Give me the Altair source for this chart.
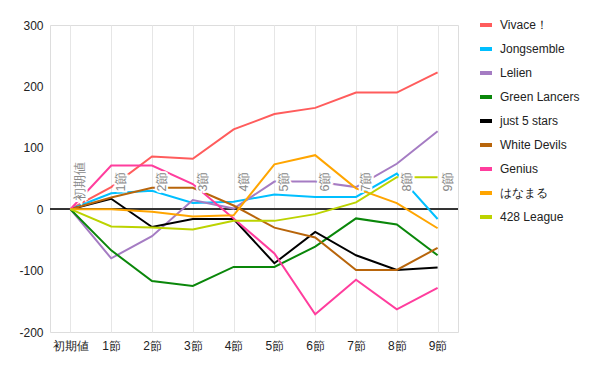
import altair as alt
import pandas as pd

categories = ["初期値", "1節", "2節", "3節", "4節", "5節", "6節", "7節", "8節", "9節"]

series_names = ["Vivace！", "Jongsemble", "Lelien", "Green Lancers", "just 5 stars",
                "White Devils", "Genius", "はなまる", "428 League"]

vivace = [0, 36, 86, 82, 130, 155, 165, 190, 190, 223]
jongsemble = [0, 26, 30, 10, 12, 24, 20, 20, 58, -16]
lelien = [0, -80, -44, 15, 1, 45, 45, 36, 74, 127]
green_lancers = [0, -67, -117, -125, -94, -94, -61, -15, -25, -75]
just5stars = [0, 17, -29, -16, -16, -88, -37, -75, -99, -95]
white_devils = [0, 19, 35, 35, 6, -30, -46, -99, -99, -63]
genius = [0, 71, 71, 41, -15, -72, -171, -115, -163, -128]
hanamaru = [0, 0, -4, -12, -10, 73, 88, 34, 10, -31]
league428 = [0, -28, -30, -33, -19, -19, -8, 11, 52, 52]

colors = ["#ff5c5c", "#00bfff", "#a57cc3", "#0a870a", "#000000",
          "#b8650b", "#ff3d9d", "#ffa500", "#bcd300"]

all_values = [vivace, jongsemble, lelien, green_lancers, just5stars,
              white_devils, genius, hanamaru, league428]

rows = []
for name, vals in zip(series_names, all_values):
    for i, (c, v) in enumerate(zip(categories, vals)):
        rows.append({"series": name, "cat": c, "order": i, "value": v})
df = pd.DataFrame(rows)

label_df = pd.DataFrame({"cat": categories})

FONT = "Liberation Sans"

x_enc = alt.X("cat:N", sort=categories, scale=alt.Scale(type="point", padding=0.5),
              axis=alt.Axis(title=None, ticks=False, domain=False, labelAngle=0,
                            labelFontSize=12, labelColor="#222222", labelPadding=8,
                            grid=True, gridColor="#e6e6e6", labelFont=FONT))
y_scale = alt.Scale(domain=[-200, 300], nice=False)

lines = alt.Chart(df).mark_line(strokeWidth=2).encode(
    x=x_enc,
    y=alt.Y("value:Q", scale=y_scale,
            axis=alt.Axis(title=None, values=[-200, -100, 0, 100, 200, 300],
                          ticks=False, domain=False, labelFontSize=12,
                          labelColor="#222222", labelPadding=7, gridColor="#cccccc",
                          labelExpr="'' + datum.value", labelFont=FONT)),
    color=alt.Color("series:N", sort=series_names,
                    scale=alt.Scale(domain=series_names, range=colors),
                    legend=alt.Legend(title=None, orient="none", legendX=428, legendY=-8,
                                      symbolType="stroke", symbolStrokeWidth=4,
                                      symbolSize=144, labelFontSize=12,
                                      labelColor="#222222", rowPadding=8,
                                      labelFont=FONT, labelOffset=6)),
    order="order:O",
)

zero = alt.Chart(label_df).mark_rule(color="#333333", strokeWidth=1).encode(
    y=alt.datum(0)
)

halo = alt.Chart(label_df).mark_text(angle=270, align="center", baseline="middle",
                                     dy=10, fontSize=12.5, font=FONT, stroke="white",
                                     strokeWidth=4, fill="white").encode(
    x=alt.X("cat:N", sort=categories), y=alt.datum(45), text="cat:N"
)
labels = alt.Chart(label_df).mark_text(angle=270, align="center", baseline="middle",
                                       dy=10, fontSize=12.5, font=FONT, color="#888888").encode(
    x=alt.X("cat:N", sort=categories), y=alt.datum(45), text="cat:N"
)

chart = alt.layer(zero, lines, halo, labels).properties(
    width=408, height=307,
    autosize=alt.AutoSizeParams(type="none"),
    padding={"left": 42, "top": 17, "right": 130, "bottom": 30},
).configure_view(stroke=None).configure(font=FONT)

chart.save("out.html", embed_options={"renderer": "svg", "actions": False})
